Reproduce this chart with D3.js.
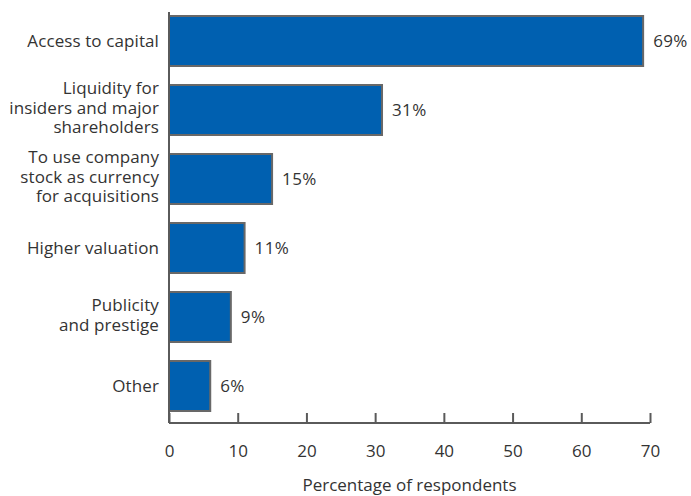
<!DOCTYPE html>
<html>
<head>
<meta charset="utf-8">
<script src="https://cdn.jsdelivr.net/npm/d3@7"></script>
<style>
  html, body { margin: 0; padding: 0; background: #fff; }
  svg { display: block; font-family: "Open Sans", "DejaVu Sans", sans-serif; }
</style>
</head>
<body>
<svg id="chart" width="691" height="496"></svg>
<script>
// Reasons for going public, share of respondents
const categories = [
  ["Access to capital"],
  ["Liquidity for", "insiders and major", "shareholders"],
  ["To use company", "stock as currency", "for acquisitions"],
  ["Higher valuation"],
  ["Publicity", "and prestige"],
  ["Other"]
];
const values = [69, 31, 15, 11, 9, 6];
const xTicks = [0, 10, 20, 30, 40, 50, 60, 70];
const xTitle = "Percentage of respondents";

const svg = d3.select("#chart");
const W = 691;
const marginLeft = 169, marginRight = 41, marginTop = 16;
const axisY = 423;
const fontSize = "17px";

const x = d3.scaleLinear().domain([0, 70]).range([marginLeft, W - marginRight]);
const y = d3.scaleBand()
  .domain(d3.range(values.length))
  .range([marginTop - 9.5, marginTop - 9.5 + 69 * values.length])
  .paddingInner(19 / 69)
  .paddingOuter(9.5 / 69);

const axisColor = "#5a5a5a";
const textColor = "#333";

// bars
svg.append("g").selectAll("rect")
  .data(values)
  .join("rect")
  .attr("x", x(0))
  .attr("y", (d, i) => y(i))
  .attr("width", d => x(d) - x(0))
  .attr("height", y.bandwidth())
  .attr("fill", "#0060b0")
  .attr("stroke", "#686868")
  .attr("stroke-width", 2);

// value labels
svg.append("g").selectAll("text")
  .data(values)
  .join("text")
  .attr("x", d => x(d) + 10)
  .attr("y", (d, i) => y(i) + y.bandwidth() / 2)
  .attr("dy", "0.35em")
  .attr("fill", textColor)
  .style("font-size", fontSize)
  .style("letter-spacing", "0.4px")
  .text(d => d + "%");

// category labels, one tspan per line
const lineH = 19.5;
const cat = svg.append("g").selectAll("text")
  .data(categories)
  .join("text")
  .attr("text-anchor", "end")
  .attr("fill", textColor)
  .style("font-size", fontSize)
  .style("letter-spacing", "0.1px")
  .attr("transform", (d, i) => `translate(159,${y(i) + y.bandwidth() / 2 - (d.length > 1 ? 2 : 0)})`);
cat.selectAll("tspan")
  .data(d => d.map((t, k) => ({ t, k, n: d.length })))
  .join("tspan")
  .attr("x", 0)
  .attr("y", d => (d.k - (d.n - 1) / 2) * lineH)
  .attr("dy", "0.35em")
  .text(d => d.t);

// vertical axis line
svg.append("line")
  .attr("x1", x(0)).attr("x2", x(0))
  .attr("y1", 12).attr("y2", axisY)
  .attr("stroke", axisColor).attr("stroke-width", 2);

// horizontal axis with inward ticks
const xAxis = d3.axisBottom(x).tickValues(xTicks).tickSize(-10).tickPadding(22).tickFormat(d3.format("d"));
const gx = svg.append("g").attr("transform", `translate(0,${axisY})`).call(xAxis);
gx.select(".domain").attr("stroke", axisColor).attr("stroke-width", 2)
  .attr("d", `M${x(0)},0H${x(70)}`);
gx.selectAll(".tick line").attr("stroke", axisColor).attr("stroke-width", 2);
gx.selectAll(".tick text").attr("fill", textColor)
  .style("font-size", fontSize).style("font-family", "'Open Sans', 'DejaVu Sans', sans-serif");

svg.append("text")
  .attr("x", (x(0) + x(70)) / 2)
  .attr("y", 485)
  .attr("dy", "0.35em")
  .attr("text-anchor", "middle")
  .attr("fill", textColor)
  .style("font-size", fontSize)
  .text(xTitle);
</script>
</body>
</html>
